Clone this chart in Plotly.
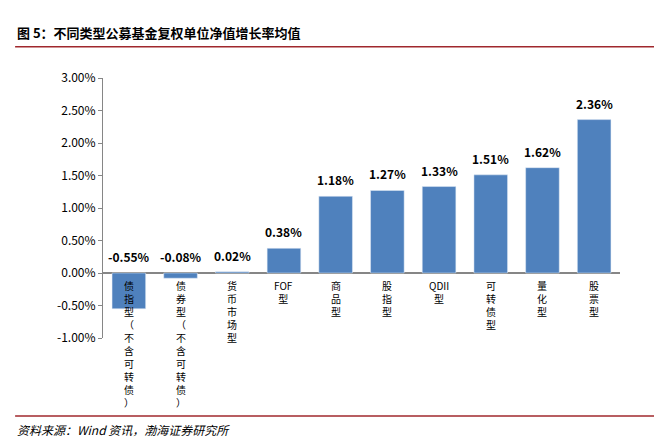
import plotly.graph_objects as go

categories = ["债指型（不含可转债）", "债券型（不含可转债）", "货币市场型", "FOF型", "商品型",
              "股指型", "QDII型", "可转债型", "量化型", "股票型"]
values = [-0.0055, -0.0008, 0.0002, 0.0038, 0.0118, 0.0127, 0.0133, 0.0151, 0.0162, 0.0236]
tick_vals = [-0.01, -0.005, 0, 0.005, 0.01, 0.015, 0.02, 0.025, 0.03]

font = "Noto Sans CJK SC"
fig = go.Figure(go.Bar(
    x=list(range(len(categories))), y=values, marker_color="#4F81BD", width=0.65))


def stack(label):
    parts, buf = [], ""
    for ch in label:
        if ch.isascii():
            buf += ch
        else:
            if buf:
                parts.append(buf)
                buf = ""
            parts.append(ch)
    if buf:
        parts.append(buf)
    return "<br>".join(parts)


for i, (c, v) in enumerate(zip(categories, values)):
    fig.add_annotation(x=i, y=0, yanchor="top", yshift=-3, showarrow=False,
                       text=stack(c), font=dict(family=font, size=10, color="black"))
    fig.add_annotation(x=i, y=max(v, 0), yanchor="bottom", yshift=6, showarrow=False,
                       text=f"<b>{v*100:.2f}%</b>", font=dict(family=font, size=12, color="black"))

fig.update_layout(
    width=662, height=439, plot_bgcolor="white", paper_bgcolor="white",
    margin=dict(l=95, r=50, t=70, b=109), showlegend=False,
    xaxis=dict(range=[-0.5, len(categories) - 0.5], showticklabels=False, showgrid=False,
               zeroline=False, showline=False),
    yaxis=dict(range=[-0.01, 0.03], tickvals=tick_vals,
               ticktext=[f"{v*100:.2f}%" for v in tick_vals], showgrid=False,
               showline=True, linecolor="#868686", ticks="outside", ticklen=4,
               tickcolor="#868686", zeroline=True, zerolinecolor="#868686",
               tickfont=dict(family=font, size=12, color="black")),
    shapes=[
        dict(type="line", xref="paper", yref="paper", x0=-0.17, x1=1.08, y0=1.12, y1=1.12,
             line=dict(color="#A0282D", width=1.5)),
        dict(type="line", xref="paper", yref="paper", x0=-0.17, x1=1.08, y0=-0.3, y1=-0.3,
             line=dict(color="#A0282D", width=1.5)),
    ],
)
fig.add_annotation(xref="paper", yref="paper", x=-0.17, y=1.13, xanchor="left", yanchor="bottom",
                   showarrow=False, text="<b>图 5：不同类型公募基金复权单位净值增长率均值</b>",
                   font=dict(family=font, size=13, color="black"))
fig.add_annotation(xref="paper", yref="paper", x=-0.17, y=-0.31, xanchor="left", yanchor="top",
                   showarrow=False, text="<i>资料来源：Wind 资讯，渤海证券研究所</i>",
                   font=dict(family=font, size=12, color="black"))
fig.write_html("out.html")
